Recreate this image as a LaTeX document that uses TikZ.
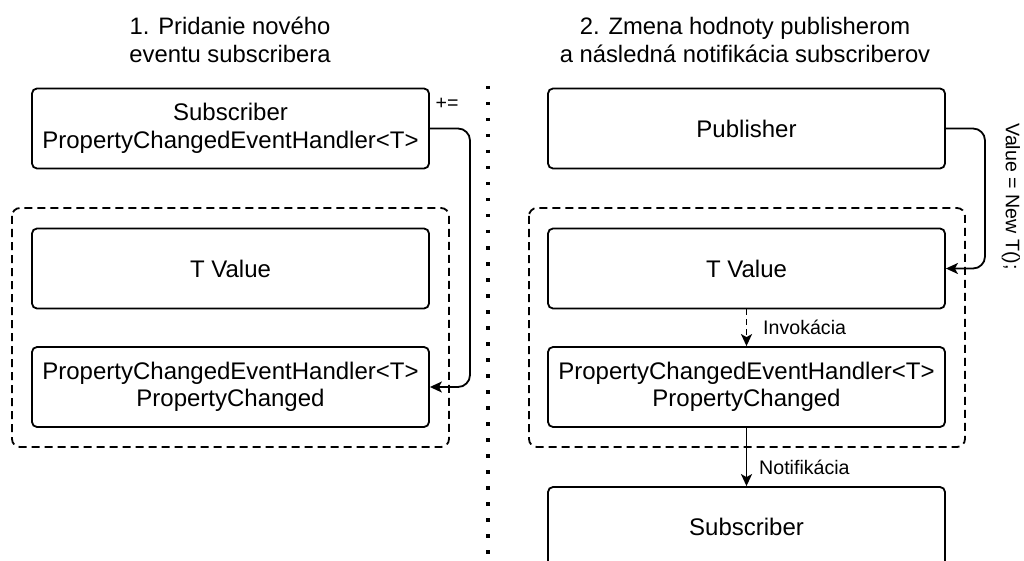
\documentclass[tikz,border=0pt]{standalone}
\usepackage{fontspec}
\setmainfont{Liberation Sans}
\usetikzlibrary{arrows.meta}

\begin{document}
\begin{tikzpicture}[
  x=1pt, y=-1pt,
  boxnode/.style={draw, line width=1.8pt, rounded corners=5pt,
    minimum width=397pt, minimum height=80pt, inner sep=0pt, align=center,
    font=\fontsize{24}{27.5}\selectfont},
  groupbox/.style={draw, line width=1.8pt, dash pattern=on 8pt off 5pt,
    rounded corners=8pt},
  titlenode/.style={align=center, inner sep=0pt,
    font=\fontsize{23.8}{27.5}\selectfont},
  lbl/.style={inner sep=0pt, font=\fontsize{19.6}{22}\selectfont},
  conn/.style={line width=1.8pt, rounded corners=12pt,
    -{Stealth[length=12pt,width=11pt,inset=3pt]}},
  divider/.style={line width=3.5pt, dash pattern=on 3.5pt off 12.5pt}
]
\useasboundingbox (0,0) rectangle (1024,561);

% column titles
\node[titlenode] (t1) at (230,40) {1. Pridanie nového\\eventu subscribera};
\node[titlenode] (t2) at (745,40) {2. Zmena hodnoty publisherom\\a následná notifikácia subscriberov};

% separator between the two steps
\coordinate (dtop) at (488,86);
\coordinate (dbot) at (488,566);
\draw[divider] (dtop) -- (dbot);

% step 1: subscribing to the event
\draw[groupbox] (12,208) rectangle (449,447);
\node[boxnode] (lsub) at (230.5,128.5) {Subscriber\\PropertyChangedEventHandler<T>};
\node[boxnode] (ltv) at (230.5,268.5) {T Value};
\node[boxnode] (lpc) at (230.5,387) {PropertyChangedEventHandler<T>\\PropertyChanged};
\coordinate (lbend) at (470,128.5);
\draw[conn] (lsub.east) -- (lbend) |- (lpc.east);
\node[lbl] (lplus) at (447,104) {+=};

% step 2: publisher changes the value, subscribers get notified
\draw[groupbox] (529,208) rectangle (965,447);
\node[boxnode] (rpub) at (746.5,128.5) {Publisher};
\node[boxnode] (rtv) at (746.5,268.5) {T Value};
\node[boxnode] (rpc) at (746.5,387) {PropertyChangedEventHandler<T>\\PropertyChanged};
\node[boxnode] (rsub) at (746.5,527) {Subscriber};
\coordinate (rbend) at (985,128.5);
\draw[conn] (rpub.east) -- (rbend) |- (rtv.east);
\node[lbl, rotate=-90] (rset) at (1011,196.5) {Value = New T();};
\draw[conn, dash pattern=on 6pt off 4pt] (rtv.south) -- (rpc.north);
\node[lbl, anchor=west] (rinv) at (763,327) {Invokácia};
\draw[conn] (rpc.south) -- (rsub.north);
\node[lbl, anchor=west] (rnot) at (759,467) {Notifikácia};
\end{tikzpicture}
\end{document}
